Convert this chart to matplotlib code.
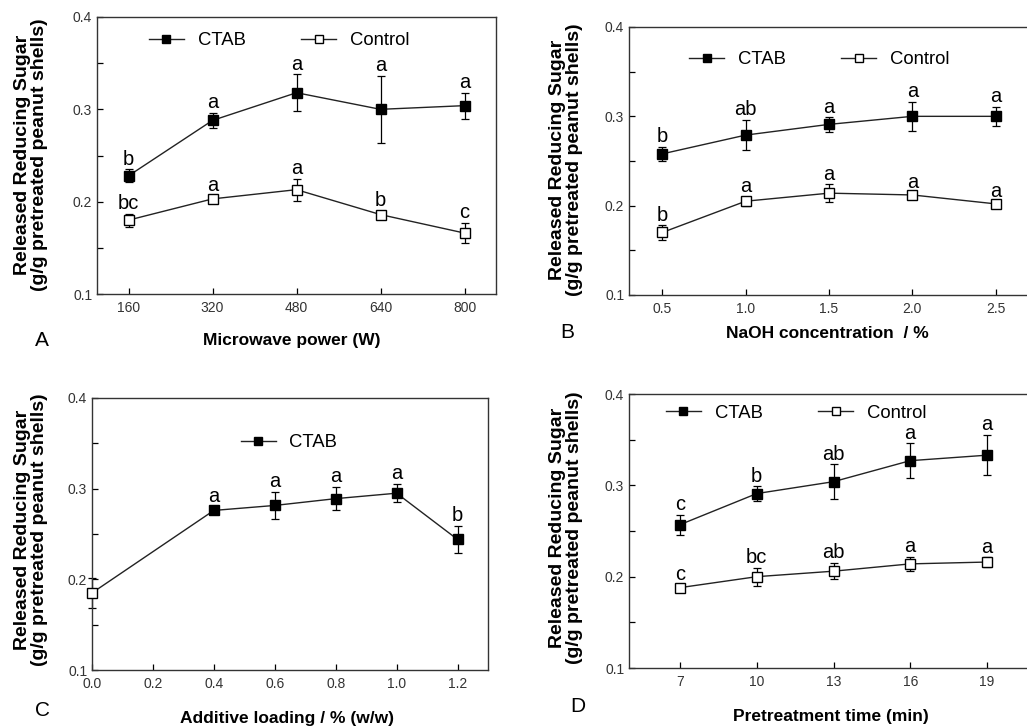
import numpy as np
import matplotlib
matplotlib.use("Agg")
import matplotlib.pyplot as plt

plt.rcParams['font.family'] = ['Liberation Sans', 'DejaVu Sans']

# Panel A - microwave power
power = [160, 320, 480, 640, 800]
a_ctab = [0.228, 0.288, 0.318, 0.300, 0.304]
a_ctab_err = [0.007, 0.008, 0.020, 0.036, 0.014]
a_ctab_lbl = ['b', 'a', 'a', 'a', 'a']
a_ctrl = [0.180, 0.203, 0.213, 0.186, 0.166]
a_ctrl_err = [0.007, 0.003, 0.012, 0.004, 0.011]
a_ctrl_lbl = ['bc', 'a', 'a', 'b', 'c']

# Panel B - NaOH concentration
naoh = [0.5, 1.0, 1.5, 2.0, 2.5]
b_ctab = [0.258, 0.279, 0.291, 0.300, 0.300]
b_ctab_err = [0.008, 0.017, 0.008, 0.016, 0.011]
b_ctab_lbl = ['b', 'ab', 'a', 'a', 'a']
b_ctrl = [0.170, 0.205, 0.214, 0.212, 0.202]
b_ctrl_err = [0.008, 0.005, 0.010, 0.003, 0.003]
b_ctrl_lbl = ['b', 'a', 'a', 'a', 'a']

# Panel C - additive loading (0.0 is the control point)
loading = [0.0, 0.4, 0.6, 0.8, 1.0, 1.2]
c_vals = [0.185, 0.276, 0.2815, 0.289, 0.295, 0.244]
c_err = [0.017, 0.004, 0.015, 0.013, 0.010, 0.015]
c_lbl = ['', 'a', 'a', 'a', 'a', 'b']

# Panel D - pretreatment time
ptime = [7, 10, 13, 16, 19]
d_ctab = [0.257, 0.291, 0.304, 0.327, 0.333]
d_ctab_err = [0.011, 0.008, 0.019, 0.019, 0.022]
d_ctab_lbl = ['c', 'b', 'ab', 'a', 'a']
d_ctrl = [0.188, 0.200, 0.206, 0.214, 0.216]
d_ctrl_err = [0.003, 0.010, 0.009, 0.0075, 0.005]
d_ctrl_lbl = ['c', 'bc', 'ab', 'a', 'a']

W, H = 1027, 727
fig = plt.figure(figsize=(W / 100, H / 100), dpi=100)

LETTER_FS = 14.5
LEGEND_FS = 13.3


def px_axes(left, top, right, bottom):
    return fig.add_axes([left / W, 1 - bottom / H, (right - left) / W, (bottom - top) / H])


def letters(ax, x, y, err, lbls):
    for xi, yi, ei, t in zip(x, y, err, lbls):
        if t:
            ax.annotate(t, (xi, yi + ei), xytext=(0, 0.5), textcoords='offset points',
                        ha='center', va='bottom', fontsize=LETTER_FS)


def series(ax, x, y, err, lbls, filled, label=None):
    fc = 'black' if filled else 'white'
    ax.errorbar(x, y, yerr=err, fmt='none', ecolor='black', elinewidth=0.9,
                capsize=3, capthick=0.9, clip_on=False, zorder=2)
    ax.plot(x, y, color='#222222', lw=1.0, marker='s', ms=6.5, mfc=fc,
            mec='black', mew=1.0, label=label, clip_on=False, zorder=3)
    letters(ax, x, y, err, lbls)


def style(ax, xlim, xticks, xticklabels):
    ax.set_xlim(*xlim)
    ax.set_ylim(0.1, 0.4)
    ax.set_xticks(xticks)
    ax.set_xticklabels(xticklabels)
    ax.set_yticks([0.1, 0.2, 0.3, 0.4])
    ax.set_yticklabels(['0.1', '0.2', '0.3', '0.4'])
    ax.set_yticks([0.15, 0.25, 0.35], minor=True)
    ax.tick_params(which='both', direction='in', labelsize=10, colors='black',
                   width=0.9, length=4.5, labelcolor='#333333')
    ax.tick_params(axis='x', pad=5)
    for s in ax.spines.values():
        s.set_linewidth(1.0)
        s.set_color('#333333')


def put_legend(ax, x, y):
    ax.legend(loc='center left', bbox_to_anchor=(x, y), ncol=2, frameon=False,
              fontsize=LEGEND_FS, handlelength=1.9, handletextpad=0.75,
              columnspacing=3.0, borderpad=0, borderaxespad=0, markerscale=0.85)


ylab = 'Released Reducing Sugar\n(g/g pretreated peanut shells)'

# A
axA = px_axes(97, 17, 496, 294)
series(axA, power, a_ctab, a_ctab_err, a_ctab_lbl, True, 'CTAB')
series(axA, power, a_ctrl, a_ctrl_err, a_ctrl_lbl, False, 'Control')
style(axA, (100, 860), power, [str(p) for p in power])
put_legend(axA, 0.13, 0.915)

# B
axB = px_axes(629, 27, 1029, 295)
series(axB, naoh, b_ctab, b_ctab_err, b_ctab_lbl, True, 'CTAB')
series(axB, naoh, b_ctrl, b_ctrl_err, b_ctrl_lbl, False, 'Control')
style(axB, (0.3, 2.7), naoh, ['%.1f' % v for v in naoh])
put_legend(axB, 0.15, 0.877)

# C
axC = px_axes(92, 398, 488, 670)
axC.errorbar(loading, c_vals, yerr=c_err, fmt='none', ecolor='black', elinewidth=0.9,
             capsize=3, capthick=0.9, clip_on=False, zorder=2)
axC.plot(loading, c_vals, color='#222222', lw=1.0, zorder=3, clip_on=False)
axC.plot(loading[1:], c_vals[1:], ls='none', marker='s', ms=6.5, mfc='black',
         mec='black', zorder=4)
axC.plot(loading[:1], c_vals[:1], ls='none', marker='s', ms=6.5, mfc='white',
         mec='black', mew=1.0, zorder=4, clip_on=False)
letters(axC, loading, c_vals, c_err, c_lbl)
axC.plot([], [], color='#222222', lw=1.0, marker='s', ms=6.5, mfc='black',
         mec='black', label='CTAB')
style(axC, (0, 1.3), [0.0, 0.2, 0.4, 0.6, 0.8, 1.0, 1.2],
      ['0.0', '0.2', '0.4', '0.6', '0.8', '1.0', '1.2'])
put_legend(axC, 0.375, 0.835)

# D
axD = px_axes(629, 394, 1038, 668)
series(axD, ptime, d_ctab, d_ctab_err, d_ctab_lbl, True, 'CTAB')
series(axD, ptime, d_ctrl, d_ctrl_err, d_ctrl_lbl, False, 'Control')
style(axD, (5, 21), ptime, [str(t) for t in ptime])
put_legend(axD, 0.09, 0.93)

# labels placed in pixel coordinates
def ftext(x, y, s, **kw):
    fig.text(x / W, 1 - y / H, s, **kw)

ylab_kw = dict(fontsize=14, fontweight='bold', ha='center', va='center',
               rotation=90, linespacing=1.0)
ftext(31, 155, ylab, **ylab_kw)
ftext(566, 160, ylab, **ylab_kw)
ftext(31, 530, ylab, **ylab_kw)
ftext(566, 528, ylab, **ylab_kw)

xlab_kw = dict(fontsize=12.5, fontweight='bold', ha='center', va='center')
ftext(292, 340, 'Microwave power (W)', **xlab_kw)
ftext(827, 333, 'NaOH concentration  / %', **xlab_kw)
ftext(287, 718, 'Additive loading / % (w/w)', **xlab_kw)
ftext(831, 717, 'Pretreatment time (min)', **xlab_kw)

pan_kw = dict(fontsize=15, ha='center', va='center')
ftext(42, 340, 'A', **pan_kw)
ftext(567, 333, 'B', **pan_kw)
ftext(42, 711, 'C', **pan_kw)
ftext(578, 707, 'D', **pan_kw)

fig.savefig('out.png', dpi=100)
